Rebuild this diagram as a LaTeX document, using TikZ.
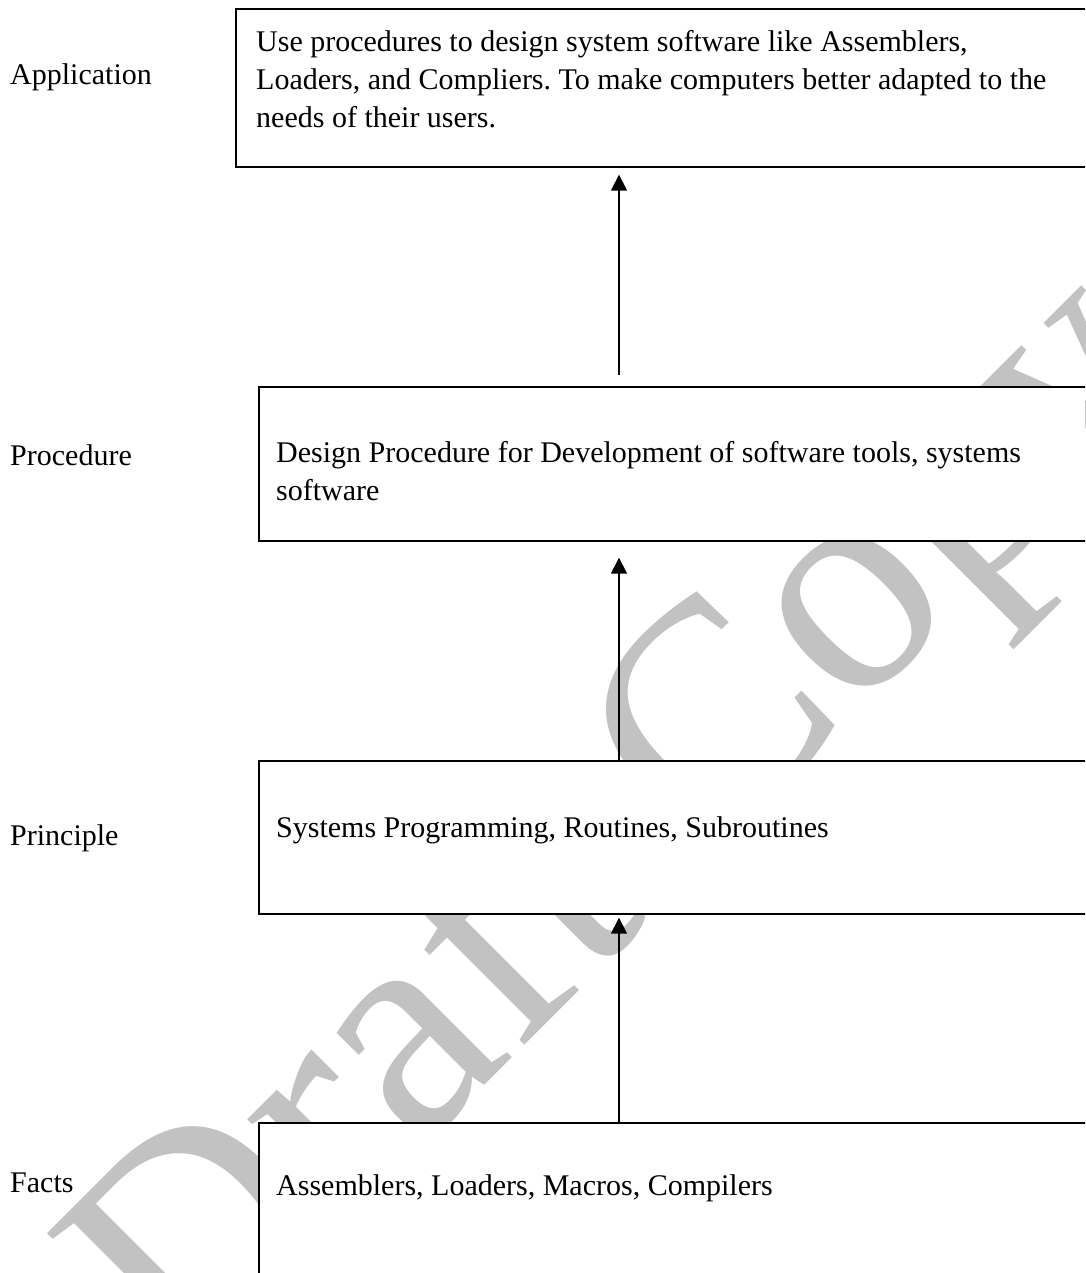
\documentclass[tikz,border=0pt]{standalone}
\usepackage{fontspec}
\setmainfont{Liberation Serif}
\usetikzlibrary{arrows.meta}
\frenchspacing
\tikzset{
  boxshape/.style={draw=black, line width=1.7pt, fill=white, rectangle, inner sep=0pt, anchor=north west},
  boxtext/.style={anchor=base west, inner sep=0pt, align=left, font=\fontsize{30}{38}\selectfont},
  sidelabel/.style={anchor=base west, inner sep=0pt, font=\fontsize{30}{38}\selectfont},
  uparrow/.style={draw=black, line width=1.7pt, -{Triangle[width=16pt,length=16pt]}},
  watermark/.style={anchor=base west, inner sep=0pt, rotate=45, text=black!24, font=\fontsize{312}{312}\selectfont}
}
\begin{document}
\begin{tikzpicture}[x=1pt,y=-1pt]
\useasboundingbox (0,0) rectangle (1085,1273);
\clip (0,0) rectangle (1085,1273);
\fill[white] (0,0) rectangle (1085,1273);
% watermark
\node[watermark] (wm) at (185,1385) {Draft Copy};
% boxes
\node[boxshape, minimum width=900pt, minimum height=158pt] (app) at (235,8) {};
\node[boxshape, minimum width=900pt, minimum height=154pt] (proc) at (258,386) {};
\node[boxshape, minimum width=900pt, minimum height=153pt] (prin) at (258,760) {};
\node[boxshape, minimum width=900pt, minimum height=200pt] (fact) at (258,1122) {};
% box texts (base = baseline of last line)
\node[boxtext] (apptext) at (256,128) {Use procedures to design system software like Assemblers,\\Loaders, and Compliers. To make computers better adapted to the\\needs of their users.};
\node[boxtext] (proctext) at (276,500) {Design Procedure for Development of software tools, systems\\software};
\node[boxtext] (printext) at (276,837) {Systems Programming, Routines, Subroutines};
\node[boxtext] (facttext) at (276,1195) {Assemblers, Loaders, Macros, Compilers};
% side labels
\node[sidelabel] (lapp) at (10,85) {Application};
\node[sidelabel] (lproc) at (10,465) {Procedure};
\node[sidelabel] (lprin) at (10,845) {Principle};
\node[sidelabel] (lfact) at (10,1192) {Facts};
% arrows
\coordinate (ax) at (619,0);
\draw[uparrow, shorten <=11pt, shorten >=7pt] (proc.north -| ax) -- (app.south -| ax);
\draw[uparrow, shorten >=16pt] (prin.north -| ax) -- (proc.south -| ax);
\draw[uparrow, shorten >=3pt] (fact.north -| ax) -- (prin.south -| ax);
\end{tikzpicture}
\end{document}
